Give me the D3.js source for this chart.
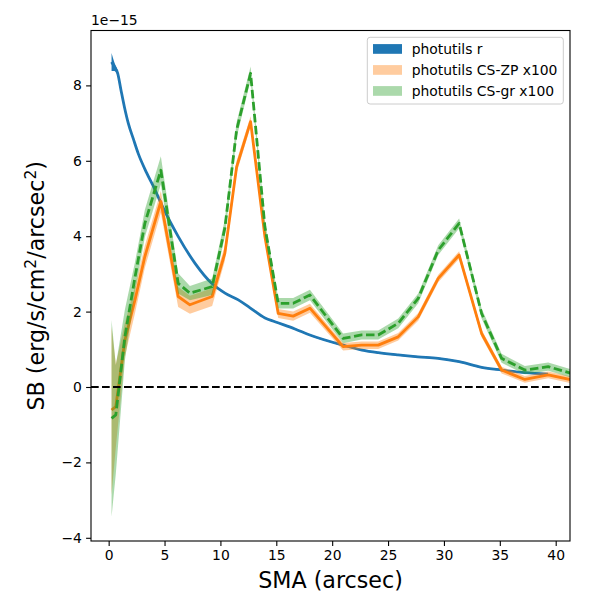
<!DOCTYPE html>
<html><head><meta charset="utf-8">
<script src="https://cdn.jsdelivr.net/npm/d3@7"></script>
<style>body{margin:0;background:#fff}svg{display:block}text{font-family:"DejaVu Sans",sans-serif}</style>
</head><body><svg id="c" width="600" height="600"></svg>
<script>
// ---- data (values in units of 1e-15) ----
const blueX = [0.26, 0.5, 0.81, 1.10, 1.40, 1.76, 2.21, 2.65, 3.40, 4.15, 4.75, 6.23, 7.73, 9.22, 10.41, 11.6, 12.65, 13.99, 14.88, 16.67, 18.0, 20.97, 22.67, 24.13, 25.89, 27.68, 29.47, 31.37, 33.38, 35.17, 37.26, 39.31];
const blueY = [8.62, 8.5, 8.32, 7.88, 7.44, 6.99, 6.58, 6.19, 5.68, 5.23, 4.83, 3.99, 3.28, 2.75, 2.49, 2.31, 2.10, 1.83, 1.73, 1.54, 1.38, 1.11, 0.98, 0.91, 0.85, 0.80, 0.76, 0.67, 0.52, 0.45, 0.38, 0.34];
const blueErr = [0.24, 0.12, 0.06, 0.04, 0.03, 0.03, 0.02, 0.02, 0.02, 0.02, 0.02, 0.02, 0.02, 0.02, 0.02, 0.02, 0.02, 0.02, 0.02, 0.02, 0.02, 0.02, 0.02, 0.02, 0.02, 0.02, 0.02, 0.02, 0.02, 0.02, 0.02, 0.02];

const smaX = [0.26, 0.64, 1.45, 2.35, 3.24, 4.67, 6.22, 7.27, 9.26, 10.40, 11.45, 12.70, 13.98, 15.17, 16.51, 18.01, 20.98, 22.63, 24.12, 25.91, 27.70, 29.49, 31.36, 33.37, 35.16, 37.24, 39.33, 41.40];
const zpY  = [-0.61, -0.52, 1.24, 2.30, 3.46, 4.92, 2.40, 2.18, 2.40, 3.55, 5.84, 7.04, 3.99, 1.95, 1.88, 2.09, 1.07, 1.11, 1.11, 1.33, 1.86, 2.88, 3.50, 1.42, 0.45, 0.20, 0.32, 0.19];
const zpHi = [1.60, 0.60, 1.70, 2.65, 3.75, 5.20, 2.65, 2.42, 2.62, 3.75, 6.00, 7.18, 4.12, 2.07, 2.00, 2.21, 1.17, 1.21, 1.21, 1.43, 1.96, 2.98, 3.60, 1.52, 0.54, 0.29, 0.41, 0.28];
const zpLo = [-2.85, -1.60, 0.80, 1.95, 3.16, 4.62, 2.12, 1.94, 2.15, 3.35, 5.68, 6.90, 3.86, 1.83, 1.76, 1.97, 0.97, 1.01, 1.01, 1.23, 1.76, 2.78, 3.40, 1.32, 0.36, 0.11, 0.23, 0.10];
const grY  = [-0.83, -0.74, 1.33, 2.90, 4.34, 5.75, 2.75, 2.49, 2.66, 4.22, 6.82, 8.32, 4.25, 2.22, 2.22, 2.44, 1.29, 1.38, 1.38, 1.69, 2.35, 3.63, 4.34, 1.95, 0.76, 0.45, 0.54, 0.36];
const grHi = [1.78, 0.58, 2.05, 3.30, 4.70, 6.12, 3.02, 2.68, 2.88, 4.45, 7.02, 8.50, 4.42, 2.36, 2.36, 2.58, 1.42, 1.50, 1.50, 1.82, 2.48, 3.76, 4.47, 2.08, 0.88, 0.56, 0.65, 0.47];
const grLo = [-3.44, -2.30, 0.70, 2.50, 3.98, 5.38, 2.48, 2.30, 2.44, 4.00, 6.62, 8.14, 4.08, 2.08, 2.08, 2.30, 1.16, 1.26, 1.26, 1.56, 2.22, 3.50, 4.21, 1.82, 0.64, 0.34, 0.43, 0.25];

const xTicks = [0, 5, 10, 15, 20, 25, 30, 35, 40];
const yTicks = [-4, -2, 0, 2, 4, 6, 8];
const legendLabels = ["photutils r", "photutils CS-ZP x100", "photutils CS-gr x100"];
const colors = ["#1f77b4", "#ff7f0e", "#2ca02c"];

// ---- layout ----
const L = 91, R = 570, T = 30.5, B = 541;
const svg = d3.select("#c");
const x = d3.scaleLinear().domain([-1.58, 41.28]).range([L, R]);
const y = d3.scaleLinear().domain([-4.085, 9.456]).range([B, T]);

svg.append("defs").append("clipPath").attr("id", "clip")
  .append("rect").attr("x", L).attr("y", T).attr("width", R - L).attr("height", B - T);
const g = svg.append("g").attr("clip-path", "url(#clip)");

const area = (xs, lo, hi, c) => d3.area().curve(c || d3.curveLinear).x((d, i) => x(xs[i])).y0((d, i) => y(lo[i])).y1((d, i) => y(hi[i]))(xs);
const line = (xs, ys, c) => d3.line().curve(c || d3.curveLinear).x((d, i) => x(xs[i])).y((d, i) => y(ys[i]))(xs);

// blue
g.append("path").attr("d", area(blueX, blueY.map((v, i) => v - blueErr[i]), blueY.map((v, i) => v + blueErr[i]), d3.curveMonotoneX))
  .attr("fill", colors[0]);
g.append("path").attr("d", line(blueX, blueY, d3.curveMonotoneX)).attr("fill", "none").attr("stroke", colors[0]).attr("stroke-width", 2.8).attr("stroke-linejoin", "round");
// orange
g.append("path").attr("d", area(smaX, zpLo, zpHi)).attr("fill", colors[1]).attr("fill-opacity", 0.4);
g.append("path").attr("d", line(smaX, zpY)).attr("fill", "none").attr("stroke", colors[1]).attr("stroke-width", 2.8).attr("stroke-linejoin", "round");
// green
g.append("path").attr("d", area(smaX, grLo, grHi)).attr("fill", colors[2]).attr("fill-opacity", 0.4);
g.append("path").attr("d", line(smaX, grY)).attr("fill", "none").attr("stroke", colors[2]).attr("stroke-width", 2.8)
  .attr("stroke-dasharray", "8.5,3.6").attr("stroke-linejoin", "round");
// zero line
g.append("line").attr("x1", L).attr("x2", R).attr("y1", y(0)).attr("y2", y(0))
  .attr("stroke", "#000").attr("stroke-width", 2).attr("stroke-dasharray", "7.7,3.3");

// axes
const xa = svg.append("g").attr("transform", `translate(0,${B})`)
  .call(d3.axisBottom(x).tickValues(xTicks).tickSize(4.9).tickPadding(4.2).tickFormat(d3.format("d")));
const ya = svg.append("g").attr("transform", `translate(${L},0)`)
  .call(d3.axisLeft(y).tickValues(yTicks).tickSize(4.9).tickPadding(4.2).tickFormat(d3.format("d")));
[xa, ya].forEach(a => {
  a.select(".domain").remove();
  a.selectAll("line").attr("stroke", "#000").attr("stroke-width", 1.1);
  a.selectAll("text").attr("font-size", 13.9).attr("fill", "#000").attr("font-family", "DejaVu Sans");
});
svg.append("rect").attr("x", L).attr("y", T).attr("width", R - L).attr("height", B - T)
  .attr("fill", "none").attr("stroke", "#000").attr("stroke-width", 1.1);

// offset text
svg.append("text").attr("x", L).attr("y", 25).attr("font-size", 13.9).text("1e\u221215");

// axis labels
svg.append("text").attr("x", (L + R) / 2).attr("y", 588).attr("text-anchor", "middle").attr("font-size", 22.2).text("SMA (arcsec)");
const yl = svg.append("text").attr("transform", `translate(44,${(T + B) / 2}) rotate(-90)`).attr("text-anchor", "middle").attr("font-size", 22.2);
yl.append("tspan").text("SB (erg/s/cm");
yl.append("tspan").attr("font-size", 15.5).attr("dy", -8).text("2");
yl.append("tspan").attr("dy", 8).text("/arcsec");
yl.append("tspan").attr("font-size", 15.5).attr("dy", -8).text("2");
yl.append("tspan").attr("dy", 8).text(")");

// legend
const lg = svg.append("g");
lg.append("rect").attr("x", 367.3).attr("y", 37.3).attr("width", 196).attr("height", 66.7).attr("rx", 2.8)
  .attr("fill", "#fff").attr("fill-opacity", 0.8).attr("stroke", "#cccccc");
legendLabels.forEach((lab, i) => {
  const cy = 49 + i * 21;
  lg.append("rect").attr("x", 373).attr("y", cy - 4.9).attr("width", 29).attr("height", 9.7)
    .attr("fill", colors[i]).attr("fill-opacity", i === 0 ? 1 : 0.4);
  lg.append("text").attr("x", 411.7).attr("y", cy + 5).attr("font-size", 13.9).text(lab);
});
</script></body></html>
